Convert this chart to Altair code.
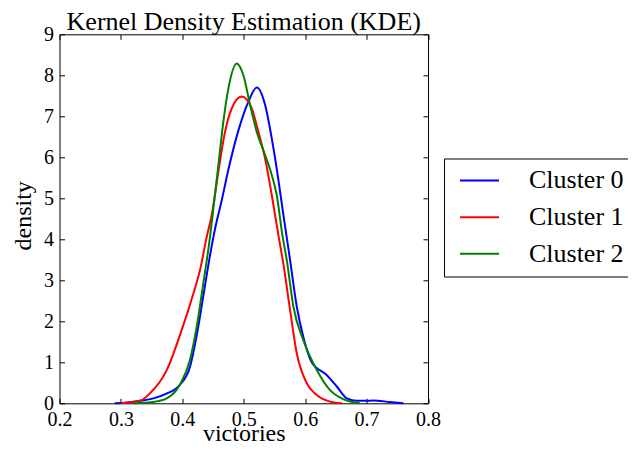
import altair as alt
import pandas as pd

# ---- data ----
names = ["Cluster 0", "Cluster 1", "Cluster 2"]
colors = ["#0000ff", "#ff0000", "#008000"]

c0_x = [0.290, 0.310, 0.331, 0.353, 0.375, 0.396, 0.4125, 0.423, 0.434, 0.445,
        0.4532, 0.4641, 0.475, 0.4912, 0.5076, 0.5211, 0.5347, 0.5456, 0.5564, 0.5645,
        0.5754, 0.5863, 0.597, 0.6106, 0.635, 0.6515, 0.668, 0.684, 0.700, 0.711,
        0.738, 0.760]
c0_y = [0.00, 0.02, 0.06, 0.12, 0.24, 0.45, 0.89, 1.62, 2.60, 3.60,
        4.25, 4.95, 5.70, 6.65, 7.36, 7.70, 7.28, 6.46, 5.45, 4.60,
        3.50, 2.36, 1.62, 1.00, 0.69, 0.41, 0.12, 0.06, 0.06, 0.07,
        0.03, 0.00]

c1_x = [0.300, 0.331, 0.347, 0.3746, 0.399, 0.418, 0.4288, 0.4397, 0.4478, 0.4587,
        0.4695, 0.4804, 0.4967, 0.513, 0.5238, 0.5347, 0.5456, 0.5564, 0.5645, 0.5754,
        0.5863, 0.6026, 0.6189, 0.646, 0.660]
c1_y = [0.00, 0.06, 0.24, 0.81, 1.79, 2.68, 3.25, 4.06, 4.59, 5.65,
        6.62, 7.19, 7.48, 7.19, 6.62, 5.97, 5.08, 4.10, 3.40, 2.28,
        1.22, 0.49, 0.20, 0.02, 0.00]

c2_x = [0.320, 0.3515, 0.3746, 0.396, 0.4125, 0.4234, 0.4342, 0.445, 0.4505, 0.4587,
        0.4668, 0.475, 0.4886, 0.4994, 0.5103, 0.5212, 0.5347, 0.5456, 0.5537, 0.5629,
        0.570, 0.5808, 0.597, 0.6189, 0.6405, 0.662, 0.689]
c2_y = [0.00, 0.03, 0.12, 0.45, 1.06, 1.87, 2.93, 4.05, 4.75, 5.81,
        6.87, 7.68, 8.29, 8.00, 7.28, 6.62, 6.06, 5.57, 5.08, 4.10,
        3.50, 2.36, 1.54, 0.81, 0.32, 0.10, 0.00]

x_ticks = [0.2, 0.3, 0.4, 0.5, 0.6, 0.7, 0.8]
y_ticks = [0, 1, 2, 3, 4, 5, 6, 7, 8, 9]

rows = []
for name, xs_, ys_ in zip(names, [c0_x, c1_x, c2_x], [c0_y, c1_y, c2_y]):
    for xv, yv in zip(xs_, ys_):
        rows.append({"cluster": name, "victories": xv, "density": yv})
df = pd.DataFrame(rows)

FONT = "Liberation Serif"
W, H = 368.5, 369

def xscale():
    return alt.Scale(domain=[0.2, 0.8], nice=False, zero=False)

def yscale():
    return alt.Scale(domain=[0, 9], nice=False, zero=False)

lines = alt.Chart(df).mark_line(strokeWidth=2, interpolate="monotone").encode(
    x=alt.X("victories:Q", scale=xscale(),
            axis=alt.Axis(values=x_ticks, format=".1f", ticks=False, domain=False, grid=False,
                          labelPadding=6, title="victories", titlePadding=-7.5,
                          titleFontSize=24, labelFlush=False)),
    y=alt.Y("density:Q", scale=yscale(),
            axis=alt.Axis(values=y_ticks, format="d", ticks=False, domain=False, grid=False,
                          labelPadding=6, title="density", titlePadding=8, titleFontSize=24,
                          titleY=181, labelFlush=False)),
    color=alt.Color("cluster:N", scale=alt.Scale(domain=names, range=colors),
                    legend=alt.Legend(title=None, orient="none", legendX=384.5, legendY=124.2,
                                      symbolType="stroke", symbolSize=1521, symbolStrokeWidth=2,
                                      symbolOffset=6, labelOffset=29, padding=9,
                                      strokeColor="black", fillColor="white",
                                      clipHeight=26, rowPadding=10.67,
                                      labelFontSize=26, labelFont=FONT, labelColor="black",
                                      labelLimit=300)),
)

def tick_layer(xorient, yorient):
    return alt.Chart(df).mark_line(opacity=0).encode(
        x=alt.X("victories:Q", scale=xscale(),
                axis=alt.Axis(orient=xorient, offset=-H, values=x_ticks, labels=False,
                              domain=False, grid=False, tickSize=5, title=None)),
        y=alt.Y("density:Q", scale=yscale(),
                axis=alt.Axis(orient=yorient, offset=-W, values=y_ticks, labels=False,
                              domain=False, grid=False, tickSize=5, title=None)),
    )

chart = alt.layer(lines, tick_layer("top", "right"), tick_layer("bottom", "left")).resolve_scale(
    x="independent", y="independent"
).properties(
    width=W, height=H,
    title=alt.Title("Kernel Density Estimation (KDE)", fontSize=26, font=FONT,
                    fontWeight="normal", color="black", offset=-11, anchor="middle"),
    autosize=alt.AutoSizeParams(type="none"),
    padding={"left": 51.5, "top": 26.3, "right": 200, "bottom": 43.5},
).configure_view(
    stroke="black", strokeWidth=1
).configure_axis(
    labelFont=FONT, titleFont=FONT, labelFontSize=20, titleFontSize=25,
    titleFontWeight="normal", labelColor="black", titleColor="black",
    tickColor="black", tickWidth=1
)

chart.save("out.html", embed_options={"renderer": "svg", "actions": False})
